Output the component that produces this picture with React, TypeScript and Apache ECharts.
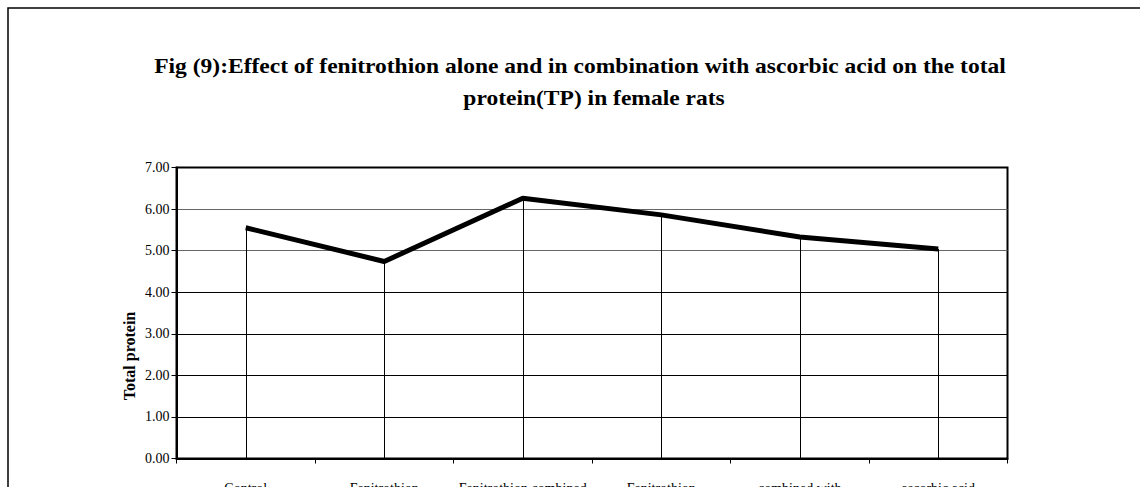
import React, { useEffect, useRef } from "react";
import * as echarts from "echarts";

const categories = [
  "Control",
  "Fenitrothion",
  "Fenitrothion combined",
  "Fenitrothion",
  "combined with",
  "ascorbic acid",
];
const totalProtein = [5.55, 4.74, 6.26, 5.86, 5.33, 5.04];
const titleLine1 =
  "Fig (9):Effect of fenitrothion alone and in combination with ascorbic acid on the total";
const titleLine2 = "protein(TP) in female rats";
const yAxisName = "Total protein";

const FONT = "'Liberation Serif', 'Times New Roman', serif";

export default function App() {
  const ref = useRef<HTMLDivElement>(null);
  useEffect(() => {
    if (!ref.current) return;
    const chart = echarts.init(ref.current, undefined, { renderer: "svg" });
    const dropLines = totalProtein.map((v, i) => [
      { coord: [i, 0] },
      { coord: [i, v] },
    ]);
    chart.setOption({
      animation: false,
      backgroundColor: "#fff",
      grid: {
        left: 176.5,
        right: 132.5,
        top: 167.5,
        bottom: 28.5,
        containLabel: false,
        outerBoundsMode: "none",
        show: true,
        borderColor: "#000",
        borderWidth: 2,
        backgroundColor: "transparent",
      },
      graphic: [
        {
          type: "rect",
          shape: { x: 8, y: 8, width: 1300, height: 700 },
          style: { fill: "none", stroke: "#000", lineWidth: 1.5 },
          silent: true,
        },
        {
          type: "text",
          x: 580,
          y: 66,
          scaleX: 1.12,
          style: {
            text: titleLine1,
            font: `bold 21px ${FONT}`,
            fill: "#000",
            align: "center",
            verticalAlign: "middle",
          },
        },
        {
          type: "text",
          x: 594,
          y: 98,
          scaleX: 1.12,
          style: {
            text: titleLine2,
            font: `bold 21px ${FONT}`,
            fill: "#000",
            align: "center",
            verticalAlign: "middle",
          },
        },
        {
          type: "text",
          x: 129,
          y: 356,
          rotation: Math.PI / 2,
          style: {
            text: yAxisName,
            font: `bold 16px ${FONT}`,
            fill: "#000",
            align: "center",
            verticalAlign: "middle",
          },
        },
      ],
      xAxis: {
        type: "category",
        data: categories,
        boundaryGap: true,
        axisLine: { show: true, lineStyle: { color: "#000", width: 2 } },
        axisTick: { show: true, inside: false, length: 5, lineStyle: { color: "#000", width: 1 } },
        axisLabel: {
          color: "#000",
          fontFamily: FONT,
          fontSize: 14,
          margin: 23,
          interval: 0,
        },
        splitLine: { show: false },
      },
      yAxis: {
        type: "value",
        min: 0,
        max: 7,
        interval: 1,
        axisLine: { show: true, lineStyle: { color: "#000", width: 2 } },
        axisTick: { show: true, inside: false, length: 5, lineStyle: { color: "#000", width: 1 } },
        axisLabel: {
          color: "#000",
          fontFamily: FONT,
          fontSize: 14,
          margin: 7,
          formatter: (v: number) => v.toFixed(2),
        },
        splitLine: {
          show: true,
          lineStyle: {
            color: ["#000", "#000", "#000", "#000", "#000", "#666", "#666", "#000"],
            width: 1,
          },
        },
      },
      series: [
        {
          type: "line",
          data: totalProtein,
          symbol: "none",
          lineStyle: { color: "#000", width: 5 },
          markLine: {
            silent: true,
            symbol: "none",
            label: { show: false },
            lineStyle: { color: "#000", width: 1, type: "solid" },
            data: dropLines,
          },
          z: 3,
        },
      ],
    });
    return () => chart.dispose();
  }, []);
  return (
    <div
      ref={ref}
      style={{ position: "absolute", left: 0, top: 0, width: 1140, height: 487 }}
    />
  );
}
